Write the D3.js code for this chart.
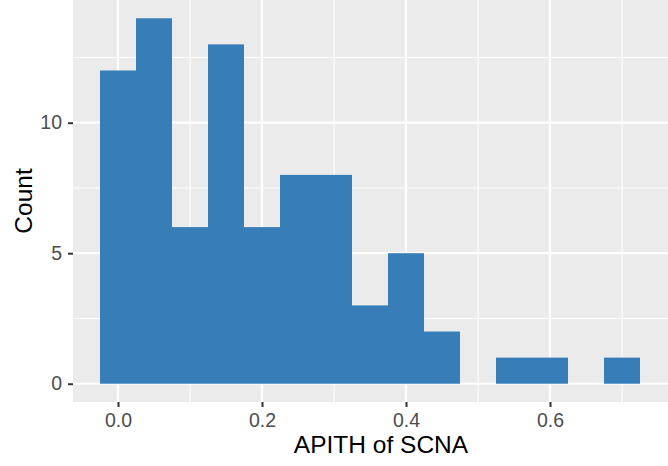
<!DOCTYPE html>
<html>
<head>
<meta charset="utf-8">
<script src="https://cdn.jsdelivr.net/npm/d3@7"></script>
<style>
  body { margin: 0; background: #fff; }
  svg { display: block; font-family: "Liberation Sans", Arial, sans-serif; }
</style>
</head>
<body>
<div id="chart"></div>
<script>
// histogram bins (centers) and counts
var binCenters = [0.0, 0.05, 0.1, 0.15, 0.2, 0.25, 0.3, 0.35, 0.4, 0.45, 0.5, 0.55, 0.6, 0.65, 0.7];
var counts = [12, 14, 6, 13, 6, 8, 8, 3, 5, 2, 0, 1, 1, 0, 1];
var binWidth = 0.05;

var xTicks = [0.0, 0.2, 0.4, 0.6];
var xMinor = [0.1, 0.3, 0.5, 0.7];
var yTicks = [0, 5, 10];
var yMinor = [2.5, 7.5, 12.5];

var width = 668, height = 466;
var panel = {left: 73, right: 667, top: 0, bottom: 402};

var svg = d3.select("#chart").append("svg")
  .attr("width", width)
  .attr("height", height);

var x = d3.scaleLinear()
  .domain([-0.0625, 0.7625])
  .range([panel.left, panel.right]);

var y = d3.scaleLinear()
  .domain([-0.7, 14.7])
  .range([panel.bottom, panel.top]);

// panel background
svg.append("rect")
  .attr("x", panel.left)
  .attr("y", panel.top)
  .attr("width", width - panel.left)
  .attr("height", panel.bottom - panel.top)
  .attr("fill", "#EBEBEB");

// minor grid
svg.selectAll(".xminor").data(xMinor).enter().append("line")
  .attr("x1", d => x(d)).attr("x2", d => x(d))
  .attr("y1", panel.top).attr("y2", panel.bottom)
  .attr("stroke", "#fff").attr("stroke-width", 1.1);
svg.selectAll(".yminor").data(yMinor).enter().append("line")
  .attr("x1", panel.left).attr("x2", width)
  .attr("y1", d => y(d)).attr("y2", d => y(d))
  .attr("stroke", "#fff").attr("stroke-width", 1.1);

// major grid
svg.selectAll(".xmajor").data(xTicks).enter().append("line")
  .attr("x1", d => x(d)).attr("x2", d => x(d))
  .attr("y1", panel.top).attr("y2", panel.bottom)
  .attr("stroke", "#fff").attr("stroke-width", 2.2);
svg.selectAll(".ymajor").data(yTicks).enter().append("line")
  .attr("x1", panel.left).attr("x2", width)
  .attr("y1", d => y(d)).attr("y2", d => y(d))
  .attr("stroke", "#fff").attr("stroke-width", 2.2);

// bars
svg.selectAll(".bar").data(binCenters).enter().append("rect")
  .attr("x", d => x(d - binWidth / 2))
  .attr("width", d => x(d + binWidth / 2) - x(d - binWidth / 2))
  .attr("y", (d, i) => y(counts[i]))
  .attr("height", (d, i) => y(0) - y(counts[i]))
  .attr("fill", "#377EB8");

// x axis
var xAxis = svg.append("g")
  .attr("transform", "translate(0," + panel.bottom + ")")
  .call(d3.axisBottom(x).tickValues(xTicks).tickFormat(d3.format(".1f")).tickSize(5).tickPadding(6));
xAxis.select(".domain").remove();
xAxis.selectAll(".tick line").attr("stroke", "#333").attr("stroke-width", 2);
xAxis.selectAll(".tick text").attr("fill", "#4D4D4D").style("font-size", "19.5px");

// y axis
var yAxis = svg.append("g")
  .attr("transform", "translate(" + panel.left + ",0)")
  .call(d3.axisLeft(y).tickValues(yTicks).tickSize(5).tickPadding(6));
yAxis.select(".domain").remove();
yAxis.selectAll(".tick line").attr("stroke", "#333").attr("stroke-width", 2);
yAxis.selectAll(".tick text").attr("fill", "#4D4D4D").style("font-size", "19.5px");

// axis titles
svg.append("text")
  .attr("x", 381)
  .attr("y", 453)
  .attr("text-anchor", "middle")
  .style("font-size", "24.5px")
  .text("APITH of SCNA");

svg.append("text")
  .attr("transform", "translate(32," + (panel.top + panel.bottom) / 2 + ") rotate(-90)")
  .attr("text-anchor", "middle")
  .style("font-size", "24.5px")
  .text("Count");
</script>
</body>
</html>
